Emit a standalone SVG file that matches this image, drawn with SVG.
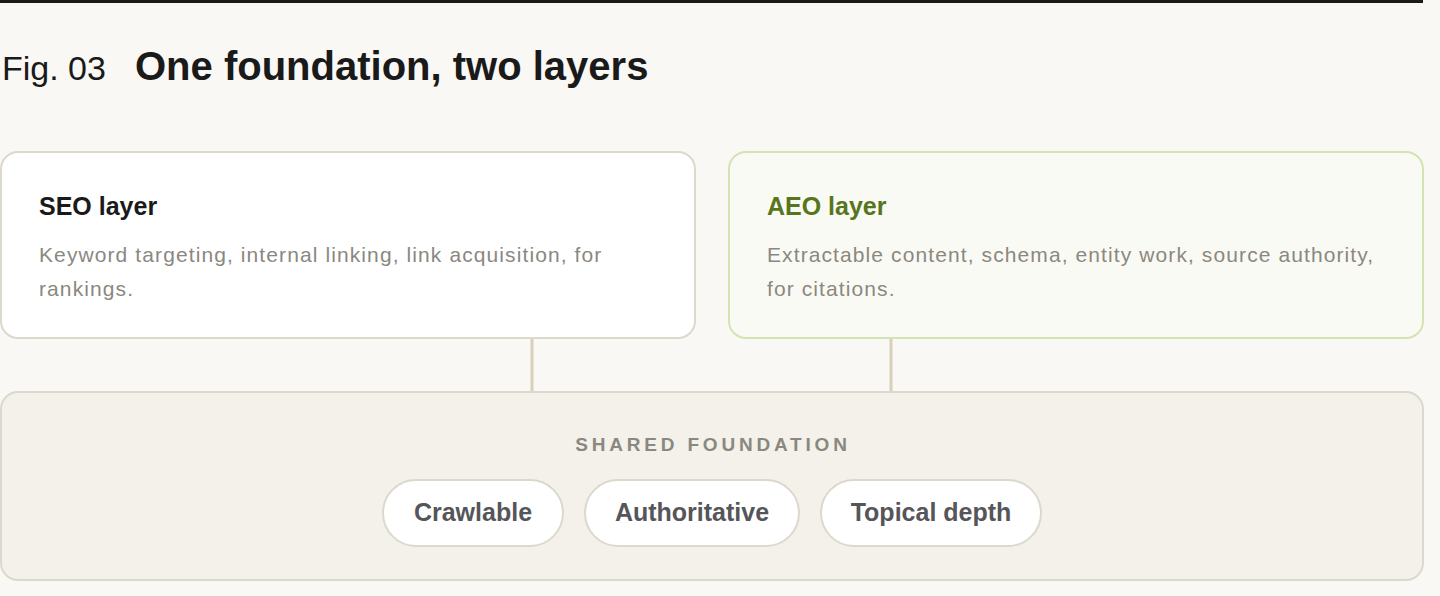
<svg xmlns="http://www.w3.org/2000/svg" width="1440" height="596" viewBox="0 0 1440 596">
<style>
.sans{font-family:"Liberation Sans",Arial,sans-serif}
.card{fill:#ffffff;stroke:#dcd8cc;stroke-width:2}
.card-aeo{fill:#fafaf4;stroke:#d3e3b4;stroke-width:2}
.found{fill:#f3f1ea;stroke:#dcd8cc;stroke-width:2}
.pill{fill:#ffffff;stroke:#dcd8cc;stroke-width:2}
.head{font-family:"Liberation Sans",Arial,sans-serif;font-weight:700;font-size:25px;fill:#1a1a1a}
.desc{font-family:"Liberation Sans",Arial,sans-serif;font-size:21px;fill:#8a887f;letter-spacing:1.1px}
.pilltext{font-family:"Liberation Sans",Arial,sans-serif;font-weight:700;font-size:25px;fill:#55555a;text-anchor:middle}
.conn{stroke:#d8cfbd;stroke-width:3;fill:none}
</style>
<rect x="0" y="0" width="1440" height="596" fill="#f9f8f4"/>
<rect x="0" y="0" width="1423" height="3" fill="#1a1a1a"/>
<g id="title">
<text x="2" y="80" class="sans" font-size="34" fill="#1a1a1a">Fig. 03</text>
<text x="135" y="80" class="sans" font-size="40" font-weight="700" fill="#1a1a1a">One foundation, two layers</text>
</g>
<g id="connectors">
<line class="conn" x1="532" y1="338" x2="532" y2="392"/>
<line class="conn" x1="891" y1="338" x2="891" y2="392"/>
</g>
<g id="seo">
<rect class="card" x="1" y="152" width="694" height="186" rx="17"/>
<text x="39" y="215" class="head">SEO layer</text>
<text x="39" y="262" class="desc">Keyword targeting, internal linking, link acquisition, for</text>
<text x="39" y="296" class="desc">rankings.</text>
</g>
<g id="aeo">
<rect class="card-aeo" x="729" y="152" width="694" height="186" rx="17"/>
<text x="767" y="215" class="head" style="fill:#56751c">AEO layer</text>
<text x="767" y="262" class="desc">Extractable content, schema, entity work, source authority,</text>
<text x="767" y="296" class="desc">for citations.</text>
</g>
<g id="foundation">
<rect class="found" x="1" y="392" width="1422" height="188" rx="17"/>
<text x="713" y="451" class="sans" font-size="19" font-weight="700" fill="#8a887f" letter-spacing="3.8" text-anchor="middle">SHARED FOUNDATION</text>
</g>
<g id="pill-crawlable">
<rect class="pill" x="383" y="480" width="180" height="66" rx="33"/>
<text x="473" y="521" class="pilltext">Crawlable</text>
</g>
<g id="pill-authoritative">
<rect class="pill" x="585" y="480" width="214" height="66" rx="33"/>
<text x="692" y="521" class="pilltext">Authoritative</text>
</g>
<g id="pill-topical">
<rect class="pill" x="821" y="480" width="220" height="66" rx="33"/>
<text x="931" y="521" class="pilltext">Topical depth</text>
</g>
</svg>
